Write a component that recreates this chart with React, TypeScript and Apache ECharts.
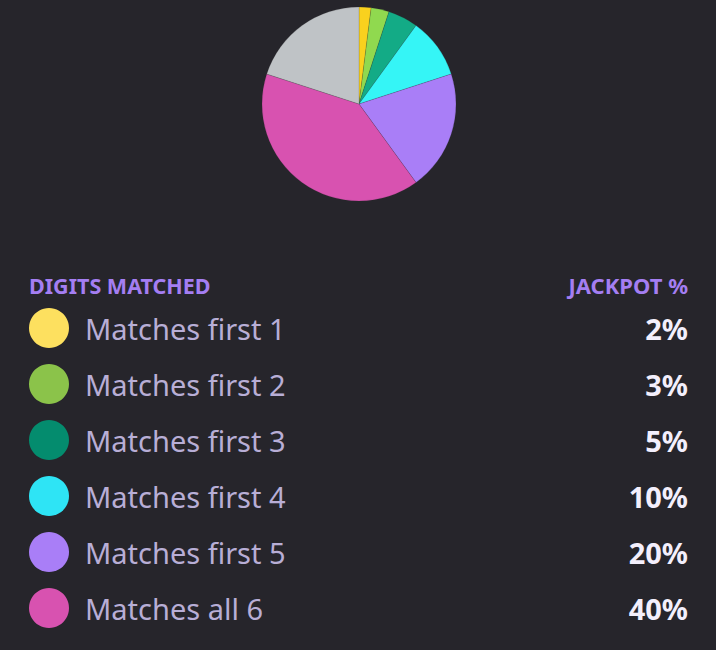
import React, { useEffect, useRef } from "react";
import * as echarts from "echarts";

const labels = ["Matches first 1", "Matches first 2", "Matches first 3", "Matches first 4", "Matches first 5", "Matches all 6"];
const values = [2, 3, 5, 10, 20, 40];
const valueLabels = ["2%", "3%", "5%", "10%", "20%", "40%"];
const remainder = 20;
const pieColors = ["#f9d11e", "#90d94f", "#13ab86", "#35f5f6", "#a97ef7", "#d852b0"];
const legendColors = ["#fde05f", "#8bc34a", "#048c6e", "#2ee4f5", "#a97ef7", "#d852b0"];
const remainderColor = "#bfc3c6";

export default function App() {
  const ref = useRef<HTMLDivElement>(null);
  useEffect(() => {
    document.body.style.margin = "0";
    document.body.style.background = "#26252b";
    const chart = echarts.init(ref.current!, null, { renderer: "svg" });
    const font = "'Noto Sans', sans-serif";
    const rowY0 = 328;
    const rowStep = 56;
    const graphics: any[] = [
      {
        type: "text",
        x: 29,
        y: 285,
        style: { text: "DIGITS MATCHED", fill: "#a47ef2", font: `bold 21.5px ${font}`, verticalAlign: "middle" },
      },
      {
        type: "text",
        x: 688,
        y: 285,
        style: { text: "JACKPOT %", fill: "#a47ef2", font: `bold 22px ${font}`, align: "right", verticalAlign: "middle" },
      },
    ];
    labels.forEach((l, i) => {
      const y = rowY0 + i * rowStep;
      graphics.push({ type: "circle", shape: { cx: 49, cy: y, r: 20 }, style: { fill: legendColors[i] } });
      graphics.push({
        type: "text",
        x: 85,
        y,
        style: { text: l, fill: "#b8aed6", font: `29px ${font}`, verticalAlign: "middle" },
      });
      graphics.push({
        type: "text",
        x: 688,
        y,
        style: { text: valueLabels[i], fill: "#f3effc", font: `bold 29px ${font}`, align: "right", verticalAlign: "middle" },
      });
    });
    chart.setOption({
      animation: false,
      backgroundColor: "#26252b",
      series: [
        {
          type: "pie",
          center: [359, 104],
          radius: 97,
          startAngle: 90,
          clockwise: true,
          label: { show: false },
          labelLine: { show: false },
          silent: true,
          itemStyle: { borderWidth: 0.5, borderColor: "rgba(38,37,43,0.3)" },
          data: [
            ...values.map((v, i) => ({ value: v, name: labels[i], itemStyle: { color: pieColors[i] } })),
            { value: remainder, name: "Other", itemStyle: { color: remainderColor } },
          ],
        },
      ],
      graphic: graphics,
    });
    return () => chart.dispose();
  }, []);
  return <div ref={ref} style={{ width: 716, height: 650 }} />;
}
